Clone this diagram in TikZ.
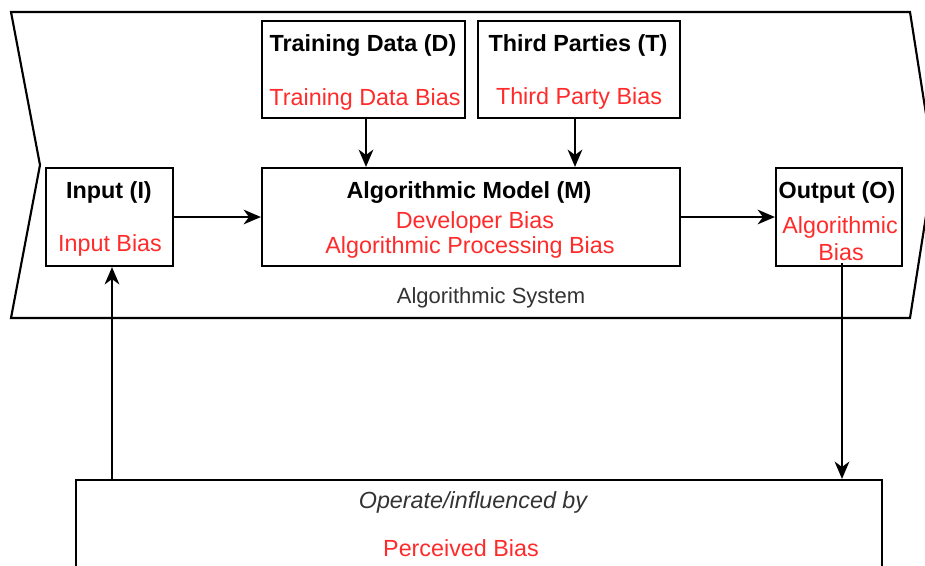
\documentclass[tikz,border=0pt]{standalone}
\usepackage{fontspec}
\setmainfont{Liberation Sans}
\usetikzlibrary{arrows.meta}
\definecolor{biasred}{HTML}{FF2B2B}
\definecolor{captiongray}{HTML}{333333}
\tikzset{
  box/.style={draw=black, line width=1.6pt, inner sep=0pt, fill=none},
  ttl/.style={font=\fontsize{17.5}{21}\selectfont\bfseries, inner sep=0pt, text height=12.5pt, text depth=3.7pt, yshift=-1.5pt},
  bias/.style={font=\fontsize{17.5}{21}\selectfont, text=biasred, inner sep=0pt, text height=12.5pt, text depth=3.7pt, yshift=-1.5pt},
  captxt/.style={font=\fontsize{16.5}{20}\selectfont, text=captiongray, inner sep=0pt, text height=12pt, text depth=3.5pt, yshift=-1.5pt},
  flow/.style={line width=1.6pt, -{Stealth[length=13pt,width=11pt,inset=4pt]}}
}
\begin{document}
\begin{tikzpicture}[x=0.75pt, y=-0.75pt]
\useasboundingbox (0,0) rectangle (925,565);
\clip (0,0) rectangle (925,565);

% system outline: notched left edge, pointed right edge
\draw[line width=1.6pt, line join=miter] (11,12) -- (910,12) -- (934,165) -- (910,318)
  -- (11,318) -- (40,165) -- cycle;
\node[captxt] (sys) at (491,296) {Algorithmic System};

% boxes
\node[box, minimum width=203*0.75pt, minimum height=97*0.75pt] (trn) at (363.5,69.5) {};
\node[box, minimum width=202*0.75pt, minimum height=97*0.75pt] (thp) at (579,69.5) {};
\node[box, minimum width=418*0.75pt, minimum height=98*0.75pt] (mdl) at (471,217) {};
\node[box, minimum width=127*0.75pt, minimum height=98*0.75pt] (inp) at (109.5,217) {};
\node[box, minimum width=126*0.75pt, minimum height=98*0.75pt] (out) at (839,217) {};
\node[box, minimum width=806*0.75pt, minimum height=120*0.75pt] (prc) at (479,540) {};

% box texts
\node[ttl] (trnT) at (363,44) {Training Data (D)};
\node[bias] (trnB) at (365,98) {Training Data Bias};
\node[ttl] (thpT) at (578,44) {Third Parties (T)};
\node[bias] (thpB) at (579,97) {Third Party Bias};
\node[ttl] (mdlT) at (469,191) {Algorithmic Model (M)};
\node[bias] (mdlB1) at (475,221) {Developer Bias};
\node[bias] (mdlB2) at (470,246) {Algorithmic Processing Bias};
\node[ttl] (inpT) at (109,191) {Input (I)};
\node[bias] (inpB) at (110,244) {Input Bias};
\node[ttl] (outT) at (837,191) {Output (O)};
\node[bias] (outB1) at (840,226) {Algorithmic};
\node[bias] (outB2) at (841,253) {Bias};
\node[captxt, font=\fontsize{17.5}{21}\selectfont\itshape] (prcT) at (473,501) {Operate/influenced by};
\node[bias] (prcB) at (461,549) {Perceived Bias};

% connectors
\draw[flow] (inp.east) -- (mdl.west);
\draw[flow] (mdl.east) -- (out.west);
\draw[flow] ([xshift=2.5*0.75pt]trn.south) -- ([xshift=2.5*0.75pt]trn.south |- mdl.north);
\draw[flow] ([xshift=-4*0.75pt]thp.south) -- ([xshift=-4*0.75pt]thp.south |- mdl.north);
\draw[flow] ([xshift=3*0.75pt,yshift=4*0.75pt]out.south) -- ([xshift=3*0.75pt]out.south |- prc.north);
\draw[flow] ([xshift=2.5*0.75pt]inp.south |- prc.north) -- ([xshift=2.5*0.75pt]inp.south);
\end{tikzpicture}
\end{document}
